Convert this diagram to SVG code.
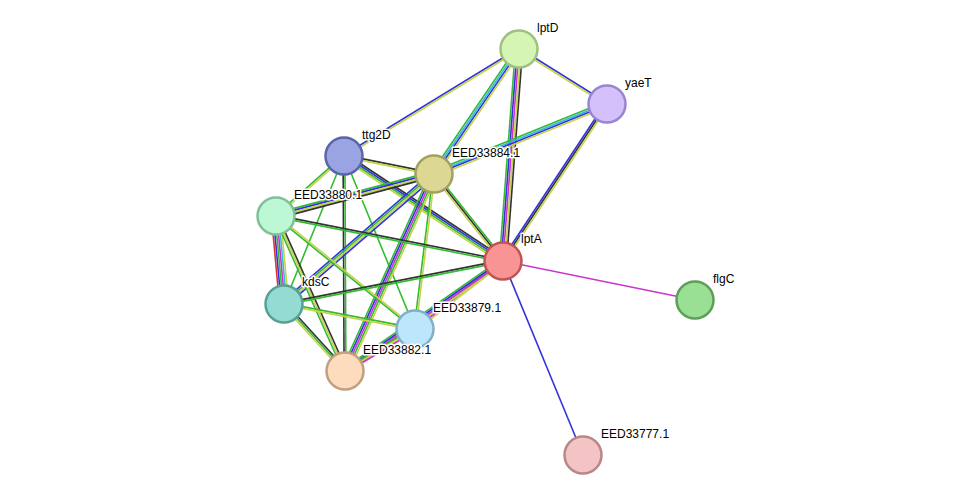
<svg xmlns="http://www.w3.org/2000/svg" width="975" height="501" viewBox="0 0 975 501">
<style>
line{stroke-width:1.6;fill:none}
.g{stroke:#33bb33}.b{stroke:#3333dd}.y{stroke:#c4d44a}.k{stroke:#333333}.m{stroke:#cc33cc}.c{stroke:#33bbdd}.r{stroke:#dd3333}
circle{stroke-width:2.5}
text{font-family:"Liberation Sans",Arial,sans-serif;font-size:12px;fill:#000;stroke:#fff;stroke-width:3;paint-order:stroke;stroke-linejoin:round}
</style>
<rect width="975" height="501" fill="#fff"/>
<g id="edges">
<g><line class="b" x1="519" y1="49" x2="607" y2="104" transform="translate(0.48 -0.77)"/><line class="y" x1="519" y1="49" x2="607" y2="104" transform="translate(-0.48 0.77)"/></g>
<g><line class="b" x1="519" y1="49" x2="344" y2="156" transform="translate(-0.47 -0.77)"/><line class="y" x1="519" y1="49" x2="344" y2="156" transform="translate(0.47 0.77)"/></g>
<g><line class="g" x1="519" y1="49" x2="434" y2="174" transform="translate(-2.24 -1.51)"/><line class="c" x1="519" y1="49" x2="434" y2="174" transform="translate(-0.75 -0.5)"/><line class="b" x1="519" y1="49" x2="434" y2="174" transform="translate(0.75 0.5)"/><line class="y" x1="519" y1="49" x2="434" y2="174" transform="translate(2.24 1.51)"/></g>
<g><line class="g" x1="519" y1="49" x2="503" y2="261" transform="translate(-3.6 -0.27)"/><line class="b" x1="519" y1="49" x2="503" y2="261" transform="translate(-1.8 -0.14)"/><line class="m" x1="519" y1="49" x2="503" y2="261"/><line class="y" x1="519" y1="49" x2="503" y2="261" transform="translate(1.8 0.14)"/><line class="k" x1="519" y1="49" x2="503" y2="261" transform="translate(3.6 0.27)"/></g>
<g><line class="g" x1="607" y1="104" x2="434" y2="174" transform="translate(-1 -2.48)"/><line class="c" x1="607" y1="104" x2="434" y2="174" transform="translate(-0.33 -0.83)"/><line class="b" x1="607" y1="104" x2="434" y2="174" transform="translate(0.33 0.83)"/><line class="y" x1="607" y1="104" x2="434" y2="174" transform="translate(1 2.48)"/></g>
<g><line class="b" x1="607" y1="104" x2="503" y2="261" transform="translate(-1.51 -0.99)"/><line class="k" x1="607" y1="104" x2="503" y2="261"/><line class="y" x1="607" y1="104" x2="503" y2="261" transform="translate(1.51 0.99)"/></g>
<g><line class="k" x1="344" y1="156" x2="434" y2="174" transform="translate(0.18 -0.88)"/><line class="y" x1="344" y1="156" x2="434" y2="174" transform="translate(-0.18 0.88)"/></g>
<g><line class="g" x1="344" y1="156" x2="276" y2="216" transform="translate(-0.59 -0.68)"/><line class="y" x1="344" y1="156" x2="276" y2="216" transform="translate(0.59 0.68)"/></g>
<g><line class="k" x1="344" y1="156" x2="503" y2="261" transform="translate(1.49 -2.24)"/><line class="b" x1="344" y1="156" x2="503" y2="261" transform="translate(0.5 -0.75)"/><line class="g" x1="344" y1="156" x2="503" y2="261" transform="translate(-0.5 0.75)"/><line class="y" x1="344" y1="156" x2="503" y2="261" transform="translate(-1.49 2.24)"/></g>
<line class="g" x1="344" y1="156" x2="284" y2="304"/>
<g><line class="k" x1="344" y1="156" x2="345" y2="371" transform="translate(-0.9 0)"/><line class="g" x1="344" y1="156" x2="345" y2="371" transform="translate(0.9 0)"/></g>
<line class="g" x1="344" y1="156" x2="415" y2="329"/>
<g><line class="g" x1="434" y1="174" x2="276" y2="216" transform="translate(-0.7 -2.62)"/><line class="b" x1="434" y1="174" x2="276" y2="216" transform="translate(-0.23 -0.87)"/><line class="y" x1="434" y1="174" x2="276" y2="216" transform="translate(0.23 0.87)"/><line class="k" x1="434" y1="174" x2="276" y2="216" transform="translate(0.7 2.62)"/></g>
<g><line class="g" x1="434" y1="174" x2="503" y2="261" transform="translate(1.4 -1.12)"/><line class="k" x1="434" y1="174" x2="503" y2="261"/><line class="y" x1="434" y1="174" x2="503" y2="261" transform="translate(-1.4 1.12)"/></g>
<g><line class="b" x1="434" y1="174" x2="284" y2="304" transform="translate(-1.78 -2.05)"/><line class="g" x1="434" y1="174" x2="284" y2="304" transform="translate(-0.59 -0.68)"/><line class="y" x1="434" y1="174" x2="284" y2="304" transform="translate(0.59 0.68)"/><line class="b" x1="434" y1="174" x2="284" y2="304" transform="translate(1.78 2.05)"/></g>
<g><line class="g" x1="434" y1="174" x2="345" y2="371" transform="translate(-3.28 -1.48)"/><line class="b" x1="434" y1="174" x2="345" y2="371" transform="translate(-1.64 -0.74)"/><line class="m" x1="434" y1="174" x2="345" y2="371"/><line class="g" x1="434" y1="174" x2="345" y2="371" transform="translate(1.64 0.74)"/><line class="y" x1="434" y1="174" x2="345" y2="371" transform="translate(3.28 1.48)"/></g>
<g><line class="g" x1="434" y1="174" x2="415" y2="329" transform="translate(-0.89 -0.11)"/><line class="y" x1="434" y1="174" x2="415" y2="329" transform="translate(0.89 0.11)"/></g>
<g><line class="k" x1="276" y1="216" x2="503" y2="261" transform="translate(0.17 -0.88)"/><line class="g" x1="276" y1="216" x2="503" y2="261" transform="translate(-0.17 0.88)"/></g>
<g><line class="r" x1="276" y1="216" x2="284" y2="304" transform="translate(-4.5 0.4)"/><line class="b" x1="276" y1="216" x2="284" y2="304" transform="translate(-2.7 0.24)"/><line class="g" x1="276" y1="216" x2="284" y2="304" transform="translate(-0.9 0.08)"/><line class="m" x1="276" y1="216" x2="284" y2="304" transform="translate(0.9 -0.08)"/><line class="c" x1="276" y1="216" x2="284" y2="304" transform="translate(2.7 -0.24)"/><line class="y" x1="276" y1="216" x2="284" y2="304" transform="translate(4.5 -0.4)"/></g>
<g><line class="g" x1="276" y1="216" x2="345" y2="371" transform="translate(-1.64 0.74)"/><line class="y" x1="276" y1="216" x2="345" y2="371"/><line class="k" x1="276" y1="216" x2="345" y2="371" transform="translate(1.64 -0.74)"/></g>
<g><line class="g" x1="276" y1="216" x2="415" y2="329" transform="translate(-0.57 0.7)"/><line class="y" x1="276" y1="216" x2="415" y2="329" transform="translate(0.57 -0.7)"/></g>
<g><line class="k" x1="503" y1="261" x2="284" y2="304" transform="translate(-0.17 -0.88)"/><line class="g" x1="503" y1="261" x2="284" y2="304" transform="translate(0.17 0.88)"/></g>
<g><line class="g" x1="503" y1="261" x2="415" y2="329" transform="translate(-1.1 -1.42)"/><line class="m" x1="503" y1="261" x2="415" y2="329"/><line class="y" x1="503" y1="261" x2="415" y2="329" transform="translate(1.1 1.42)"/></g>
<g><line class="g" x1="503" y1="261" x2="345" y2="371" transform="translate(-1.54 -2.21)"/><line class="b" x1="503" y1="261" x2="345" y2="371" transform="translate(-0.51 -0.74)"/><line class="m" x1="503" y1="261" x2="345" y2="371" transform="translate(0.51 0.74)"/><line class="y" x1="503" y1="261" x2="345" y2="371" transform="translate(1.54 2.21)"/></g>
<line class="m" x1="503" y1="261" x2="695" y2="300"/>
<line class="b" x1="503" y1="261" x2="583" y2="455"/>
<g><line class="g" x1="284" y1="304" x2="415" y2="329" transform="translate(0.17 -0.88)"/><line class="y" x1="284" y1="304" x2="415" y2="329" transform="translate(-0.17 0.88)"/></g>
<g><line class="y" x1="284" y1="304" x2="345" y2="371" transform="translate(-1.33 1.21)"/><line class="g" x1="284" y1="304" x2="345" y2="371"/><line class="k" x1="284" y1="304" x2="345" y2="371" transform="translate(1.33 -1.21)"/></g>
<g><line class="g" x1="415" y1="329" x2="345" y2="371" transform="translate(-0.92 -1.55)"/><line class="y" x1="415" y1="329" x2="345" y2="371"/><line class="m" x1="415" y1="329" x2="345" y2="371" transform="translate(0.92 1.55)"/></g>
</g>
<g id="lptD"><circle cx="519" cy="49" r="18.5" fill="#d4f5b4" stroke="#a0c080"/><text x="537" y="32">lptD</text></g>
<g id="yaeT"><circle cx="607" cy="104" r="18.5" fill="#d4c0fa" stroke="#9a84d0"/><text x="625" y="87">yaeT</text></g>
<g id="ttg2D"><circle cx="344" cy="156" r="18.5" fill="#9aa4e2" stroke="#5a64a8"/><text x="362" y="139">ttg2D</text></g>
<g id="EED33884.1"><circle cx="434" cy="174" r="18.5" fill="#dcd894" stroke="#a0a060"/><text x="452" y="157">EED33884.1</text></g>
<g id="EED33880.1"><circle cx="276" cy="216" r="18.5" fill="#bcf8d4" stroke="#80c098"/><text x="294" y="199">EED33880.1</text></g>
<g id="lptA"><circle cx="503" cy="261" r="18.5" fill="#f89494" stroke="#c05454"/><text x="521" y="243">lptA</text></g>
<g id="flgC"><circle cx="695" cy="300" r="18.5" fill="#9ae094" stroke="#5e9e58"/><text x="713" y="283">flgC</text></g>
<g id="kdsC"><circle cx="284" cy="304" r="18.5" fill="#94dcd2" stroke="#58a096"/><text x="302" y="286">kdsC</text></g>
<g id="EED33879.1"><circle cx="415" cy="329" r="18.5" fill="#bce6fa" stroke="#80b0c8"/><text x="433" y="312">EED33879.1</text></g>
<g id="EED33882.1"><circle cx="345" cy="371" r="18.5" fill="#fcdcbc" stroke="#c0a080"/><text x="363" y="354">EED33882.1</text></g>
<g id="EED33777.1"><circle cx="583" cy="455" r="18.5" fill="#f4c4c4" stroke="#b88888"/><text x="601" y="438">EED33777.1</text></g>
</svg>
